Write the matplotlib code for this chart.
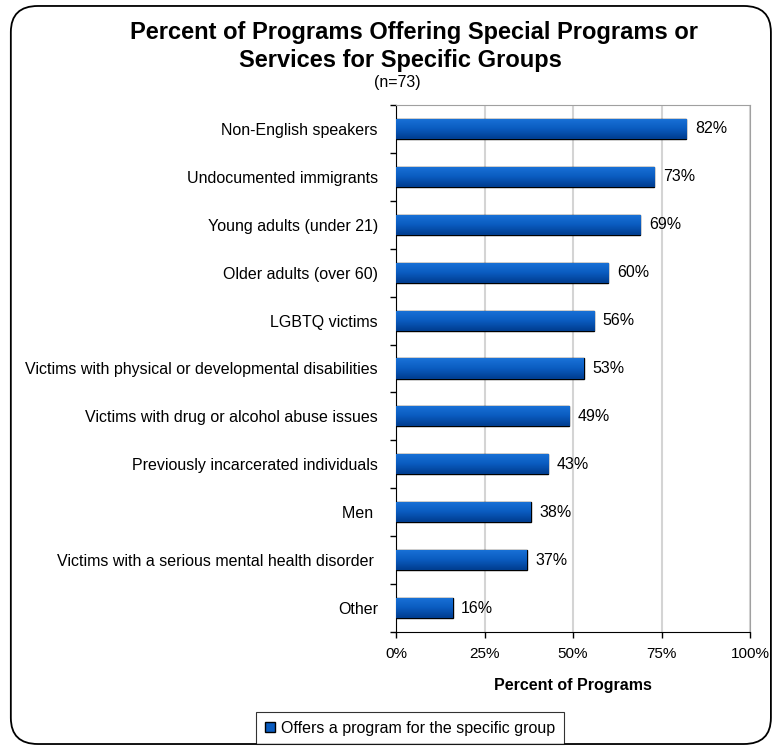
import matplotlib.pyplot as plt
import numpy as np
from matplotlib.patches import FancyBboxPatch
from matplotlib.colors import LinearSegmentedColormap

plt.rcParams['font.family'] = ['Liberation Sans', 'DejaVu Sans']

groups = ["Non-English speakers", "Undocumented immigrants", "Young adults (under 21)",
          "Older adults (over 60)", "LGBTQ victims",
          "Victims with physical or developmental disabilities",
          "Victims with drug or alcohol abuse issues",
          "Previously incarcerated individuals", "Men ",
          "Victims with a serious mental health disorder ", "Other"]
percents = [82, 73, 69, 60, 56, 53, 49, 43, 38, 37, 16]
xticks = [0, 25, 50, 75, 100]

fig = plt.figure(figsize=(7.74, 7.47), dpi=100)

# rounded outer frame
frame = FancyBboxPatch((0.014, 0.004), 0.982, 0.988, boxstyle="round,pad=0,rounding_size=0.035",
                       transform=fig.transFigure, fill=False, edgecolor='black', linewidth=1.3)
fig.patches.append(frame)

ax = fig.add_axes([396/774, 1-632/747, (750-396)/774, (632-105)/747])

ypos = np.arange(len(groups))
bars = ax.barh(ypos, percents, height=0.42, color='#0a5cc0', edgecolor='black',
               linewidth=1.0, zorder=3)

# vertical gradient on each bar
cmap = LinearSegmentedColormap.from_list('bar', ['#1a72d8', '#0a5cc0', '#003d8f'])
grad = np.linspace(0, 1, 64).reshape(-1, 1)
for b in bars:
    x0, y0 = b.get_x(), b.get_y()
    w, h = b.get_width(), b.get_height()
    im = ax.imshow(grad, cmap=cmap, aspect='auto', extent=(x0, x0 + w, y0 + h, y0),
                   zorder=3, interpolation='bilinear')
    im.set_clip_path(b)

for y, v in zip(ypos, percents):
    ax.text(v + 2.4, y, f"{v}%", va='center', ha='left', fontsize=11.5, zorder=4)

ax.set_xlim(0, 100)
ax.set_ylim(len(groups) - 0.5, -0.5)
ax.set_xticks(xticks)
ax.set_xticklabels([f"{t}%" for t in xticks], fontsize=11)
ax.set_yticks(ypos)
ax.set_yticklabels(groups, fontsize=11.5)
ax.set_yticks(np.arange(len(groups) + 1) - 0.5, minor=True)
ax.tick_params(axis='y', which='major', length=0, pad=13)
ax.tick_params(axis='y', which='minor', length=4, direction='out', width=1)
ax.tick_params(axis='x', length=4, direction='out', width=1, pad=7)
ax.grid(axis='x', color='#d4d4d4', linewidth=1.5, zorder=0)

ax.spines['left'].set_color('black')
ax.spines['bottom'].set_color('black')
ax.spines['top'].set_color('#a0a0a0')
ax.spines['right'].set_color('#a0a0a0')

ax.set_xlabel("Percent of Programs", fontsize=11.5, fontweight='bold', labelpad=12)

fig.text(414/774, 1-33/747, "Percent of Programs Offering Special Programs or",
         ha='center', va='center', fontsize=17, fontweight='bold')
fig.text(400/774, 1-60/747, "Services for Specific Groups",
         ha='center', va='center', fontsize=17, fontweight='bold')
fig.text(397/774, 1-83/747, "(n=73)", ha='center', va='center', fontsize=11.5)

leg = fig.legend([bars[0]], ["Offers a program for the specific group"], loc='center',
                 bbox_to_anchor=(410/774, 1-728/747), fontsize=11.5, frameon=True,
                 fancybox=False, edgecolor='black', handlelength=0.6, handleheight=0.6,
                 handletextpad=0.4, borderpad=0.55)
leg.get_frame().set_linewidth(0.8)

fig.savefig("out.png", dpi=100)
